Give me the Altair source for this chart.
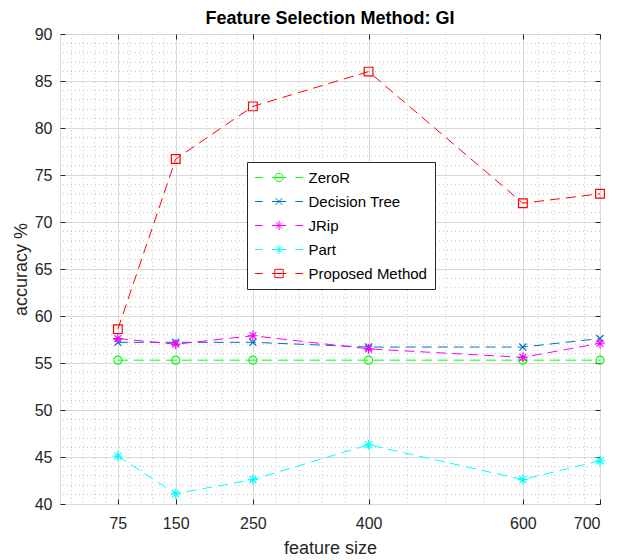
import altair as alt
import pandas as pd

# ---- data ----
feature_sizes = [75, 150, 250, 400, 600, 700]
series_names = ["ZeroR", "Decision Tree", "JRip", "Part", "Proposed Method"]
zeror = [55.3, 55.3, 55.3, 55.3, 55.3, 55.3]
decision_tree = [57.2, 57.2, 57.2, 56.7, 56.7, 57.6]
jrip = [57.6, 57.0, 57.9, 56.5, 55.6, 57.1]
part = [45.1, 41.1, 42.6, 46.3, 42.6, 44.6]
proposed = [58.6, 76.7, 82.3, 86.0, 72.0, 73.0]

x_ticks = [75, 150, 250, 400, 600, 700]
y_ticks = [40, 45, 50, 55, 60, 65, 70, 75, 80, 85, 90]
x_minor = [15, 30, 45, 60, 90, 105, 120, 135, 170, 190, 210, 230,
           280, 310, 340, 370, 450, 500, 550, 620, 640, 660, 680]
y_minor = [v for v in range(41, 90) if v % 5 != 0]

# ---- styling ----
FONT = "Liberation Sans"
AX = "#262626"
colors = ["#00ff00", "#0072bd", "#ff00ff", "#00ffff", "#ff0000"]
marker_shapes = [
    "circle",
    "M-1,-1L1,1M-1,1L1,-1",
    "M-1,0H1M0,-1V1M-0.7,-0.7L0.7,0.7M-0.7,0.7L0.7,-0.7",
    "M-1,0H1M0,-1V1M-0.7,-0.7L0.7,0.7M-0.7,0.7L0.7,-0.7",
    "square",
]
marker_sizes = [64, 50, 95, 100, 76]
dash = "M-1,0H-0.68M-0.3,0H0.3M0.68,0H1"
legend_shapes = [
    dash + "M0.175,0A0.175,0.175,0,1,1,-0.175,0A0.175,0.175,0,1,1,0.175,0Z",
    dash + "M-0.14,-0.14L0.14,0.14M-0.14,0.14L0.14,-0.14",
    dash + "M-0.19,0H0.19M0,-0.19V0.19M-0.134,-0.134L0.134,0.134M-0.134,0.134L0.134,-0.134",
    dash + "M-0.19,0H0.19M0,-0.19V0.19M-0.134,-0.134L0.134,0.134M-0.134,0.134L0.134,-0.134",
    dash + "M-0.175,-0.175H0.175V0.175H-0.175Z",
]

W, H = 540, 470

rows = []
for name, vals in zip(series_names, [zeror, decision_tree, jrip, part, proposed]):
    for fs, v in zip(feature_sizes, vals):
        rows.append({"series": name, "size": fs, "value": v})
df = pd.DataFrame(rows)

x_scale = alt.Scale(domain=[0, 700], nice=False, zero=False)
y_scale = alt.Scale(domain=[40, 90], nice=False, zero=False)
color_scale = alt.Scale(domain=series_names, range=colors)


def tick_axis(orient, offset, values):
    return alt.Axis(orient=orient, offset=offset, values=values, labels=False,
                    domain=False, grid=False, ticks=True, tickSize=5,
                    tickColor=AX, tickWidth=1, title=None)


main_x_axis = alt.Axis(orient="bottom", values=x_ticks, grid=True,
                       gridColor="#d9d9d9", ticks=False, domain=False,
                       labelFontSize=16, labelColor=AX, labelPadding=11,
                       labelFont=FONT, title="feature size",
                       titleFontSize=18, titleFontWeight="normal",
                       titleColor=AX, titleFont=FONT, titlePadding=8)
main_y_axis = alt.Axis(orient="left", values=y_ticks, grid=True,
                       gridColor="#d9d9d9", ticks=False, domain=False,
                       labelFontSize=16, labelColor=AX, labelPadding=8,
                       labelFont=FONT, title="accuracy %",
                       titleFontSize=18, titleFontWeight="normal",
                       titleColor=AX, titleFont=FONT, titlePadding=4)

# minor grid (x) + inward ticks on top edge
minor_x_layer = alt.Chart(pd.DataFrame({"mx": x_minor})).mark_rule(
    color="#c4c4c4", strokeDash=[1, 3], strokeWidth=1
).encode(x=alt.X("mx:Q", scale=x_scale, axis=tick_axis("bottom", -H, x_ticks)))

# minor grid (y) + inward ticks on right edge
minor_y_layer = alt.Chart(pd.DataFrame({"my": y_minor})).mark_rule(
    color="#c4c4c4", strokeDash=[1, 3], strokeWidth=1
).encode(y=alt.Y("my:Q", scale=y_scale, axis=tick_axis("left", -W, y_ticks)))

# dashed lines per series (first one carries the main axes)
line_layers = []
for i, name in enumerate(series_names):
    xa = main_x_axis if i == 0 else None
    ya = main_y_axis if i == 0 else None
    line_layers.append(
        alt.Chart(df).transform_filter(alt.datum.series == name).mark_line(
            strokeDash=[10, 6], strokeWidth=1, color=colors[i]
        ).encode(
            x=alt.X("size:Q", scale=x_scale, axis=xa),
            y=alt.Y("value:Q", scale=y_scale, axis=ya),
        )
    )

# markers per series
marker_layers = []
for i, name in enumerate(series_names):
    xa = tick_axis("top", -H, x_ticks) if i == 0 else None
    ya = tick_axis("right", -W, y_ticks) if i == 0 else None
    marker_layers.append(
        alt.Chart(df).transform_filter(alt.datum.series == name).mark_point(
            shape=marker_shapes[i], filled=False, size=marker_sizes[i],
            color=colors[i], strokeWidth=1.2, opacity=1
        ).encode(
            x=alt.X("size:Q", scale=x_scale, axis=xa),
            y=alt.Y("value:Q", scale=y_scale, axis=ya),
        )
    )

legend = alt.Legend(
    title=None, orient="none", legendX=187, legendY=128, direction="vertical",
    symbolSize=2304, symbolStrokeWidth=1, symbolFillColor="transparent",
    symbolOpacity=1, clipHeight=16,
    labelFontSize=15, labelFont=FONT, labelColor="#000000", labelOffset=5,
    labelLimit=400, padding=7.5, rowPadding=8, strokeColor=AX,
    fillColor="white", cornerRadius=0,
)

legend_layer = alt.Chart(df).mark_point(
    filled=False, strokeWidth=1, strokeOpacity=0, size=1
).encode(
    x=alt.X("size:Q", scale=x_scale, axis=None),
    y=alt.Y("value:Q", scale=y_scale, axis=None),
    color=alt.Color("series:N", scale=color_scale, legend=legend),
    shape=alt.Shape("series:N", scale=alt.Scale(domain=series_names, range=legend_shapes),
                    legend=legend),
)

chart = alt.layer(
    minor_x_layer, minor_y_layer, *line_layers, *marker_layers, legend_layer
).resolve_axis(x="independent", y="independent").properties(
    width=W, height=H,
    autosize=alt.AutoSizeParams(type="none"),
    padding={"left": 60, "top": 34, "right": 20, "bottom": 56},
    title=alt.TitleParams("Feature Selection Method: GI", fontSize=18,
                          fontWeight="bold", font=FONT, color="#000000",
                          anchor="middle", offset=-2),
).configure_view(stroke=AX, strokeWidth=1).configure(background="white")

chart.save("out.html", embed_options={"renderer": "svg", "actions": False})
